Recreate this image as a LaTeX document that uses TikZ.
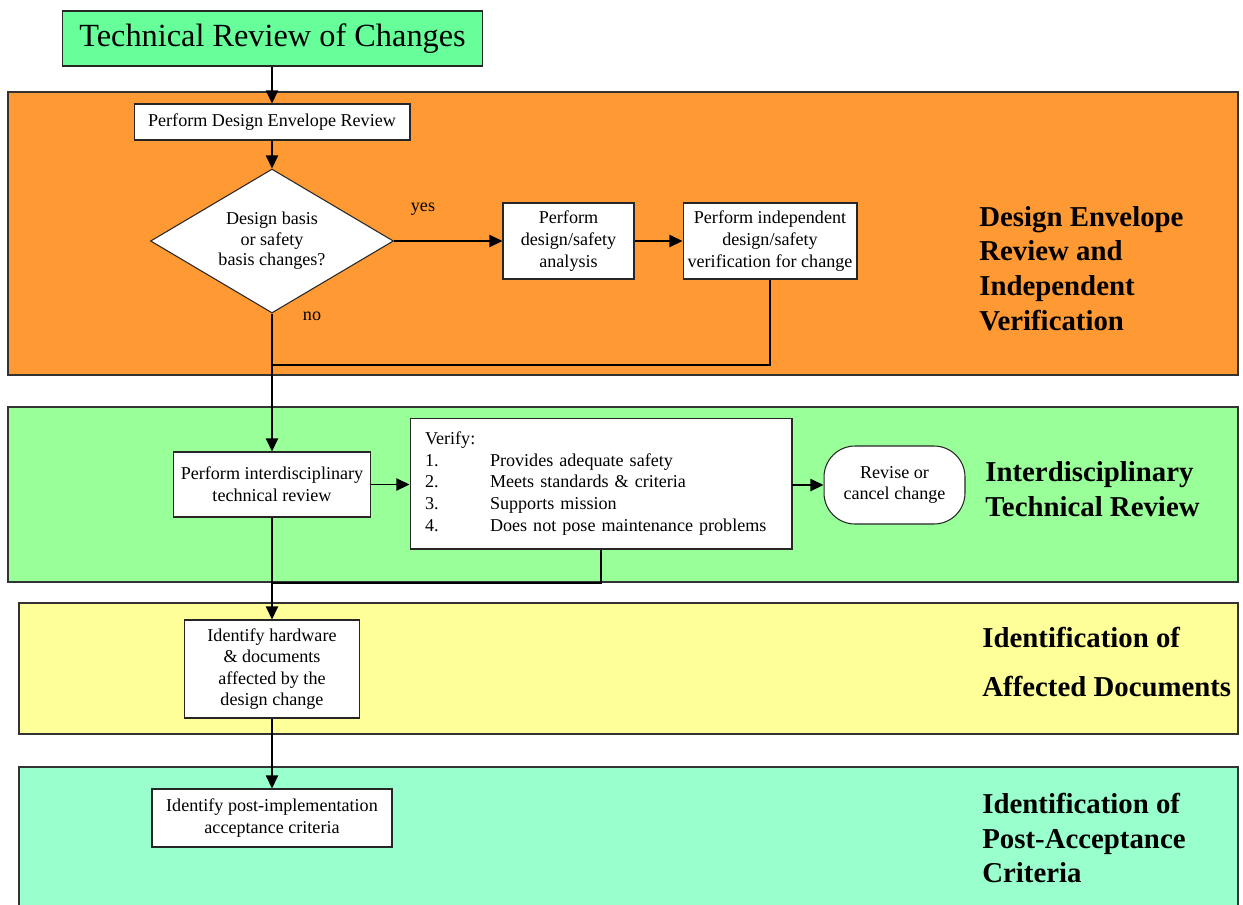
\documentclass[tikz,border=0pt]{standalone}
\usepackage{fontspec}
\setmainfont{Liberation Serif}
\usetikzlibrary{arrows.meta,shapes.geometric}
\definecolor{titlegreen}{HTML}{66FF99}
\definecolor{bandorange}{HTML}{FF9933}
\definecolor{bandgreen}{HTML}{99FF99}
\definecolor{bandyellow}{HTML}{FFFF99}
\definecolor{bandcyan}{HTML}{99FFCC}
\newcommand{\bodyfont}{\fontsize{10.3pt}{12.3pt}\selectfont}
\newcommand{\headfont}{\fontsize{16.4pt}{19.8pt}\selectfont\bfseries}
\begin{document}
\begin{tikzpicture}[x=0.02cm,y=-0.02cm,
  band/.style={draw=black!80,line width=0.6pt},
  box/.style={draw=black!85,fill=white,line width=0.6pt,font=\bodyfont,align=center,inner sep=0pt},
  arr/.style={-{Triangle[length=7.5pt,width=7pt]},line width=0.8pt},
  conn/.style={line width=0.8pt},
  heading/.style={font=\headfont,align=left,anchor=west,inner sep=0pt},
  lbl/.style={font=\bodyfont,inner sep=0pt}]
\useasboundingbox (0,0) rectangle (1243,904);
% bands
\path[band,fill=bandorange] (8,92) rectangle (1238,375);
\path[band,fill=bandgreen] (8,407) rectangle (1238,582);
\path[band,fill=bandyellow] (19,603) rectangle (1238,734);
\path[band,fill=bandcyan] (19,767) rectangle (1238,910);
% title
\node[box,fill=titlegreen,minimum width=8.42cm,minimum height=1.1cm,font=\fontsize{18.4pt}{22pt}\selectfont] (title) at (272.5,38.5) {Technical Review of Changes};
% orange band
\node[box,minimum width=5.52cm,minimum height=0.72cm] (der) at (272,122) {Perform Design Envelope Review};
\node[box,shape=diamond,minimum width=4.86cm,minimum height=2.88cm,shape aspect=1.69,font={\fontsize{10.3pt}{11.6pt}\selectfont}] (dia) at (272,241) {Design basis\\or safety\\basis changes?};
\node[box,minimum width=2.62cm,minimum height=1.52cm] (ana) at (568.5,241) {Perform\\design/safety\\analysis};
\node[box,minimum width=3.48cm,minimum height=1.52cm] (ver) at (770,241) {Perform independent\\design/safety\\verification for change};
\node[lbl] (yes) at (423,209) {yes};
\node[lbl] (no) at (312,316) {no};
\node[heading] (h1) at (979,268.5) {Design Envelope\\Review and\\Independent\\Verification};
% green band
\node[box,minimum width=3.94cm,minimum height=1.3cm] (idr) at (272,484.5) {Perform interdisciplinary\\technical review};
\node[box,minimum width=7.64cm,minimum height=2.62cm,align=left,text width=7.04cm,inner xsep=0.3cm] (vfy) at (601,483.5) {\begin{tabular}{@{}p{1.3cm}@{}l@{}}\multicolumn{2}{@{}l}{Verify:}\\1. & Provides adequate safety\\2. & Meets standards \& criteria\\3. & Supports mission\\4. & Does not pose maintenance problems\end{tabular}};
\node[box,minimum width=2.82cm,minimum height=1.56cm,rounded corners=0.62cm] (rev) at (894.5,485) {Revise or\\cancel change};
\node[heading] (h2) at (985,489) {Interdisciplinary\\Technical Review};
% yellow band
\node[box,minimum width=3.5cm,minimum height=1.96cm] (ihw) at (272,669) {Identify hardware\\\& documents\\affected by the\\design change};
\node[heading,font={\fontsize{16.4pt}{28.3pt}\selectfont\bfseries}] (h3) at (982,662) {Identification of\\Affected Documents};
% cyan band
\node[box,minimum width=4.8cm,minimum height=1.16cm] (post) at (272,818) {Identify post-implementation\\acceptance criteria};
\node[heading] (h4) at (982,838) {Identification of\\Post-Acceptance\\Criteria};
% junctions
\coordinate (j1) at (272,365);
\coordinate (j2) at (272,583);
% connectors
\draw[arr] (title.south -| der.north) -- (der.north);
\draw[arr] (der.south) -- (dia.north);
\draw[arr] (dia.east) -- (ana.west);
\draw[arr] (ana.east) -- (ver.west);
\draw[arr] (dia.south) -- (dia.south |- idr.north);
\draw[conn] (ver.south) |- (j1);
\draw[arr] (idr.east) -- (idr.east -| vfy.west);
\draw[arr] (vfy.east) -- (vfy.east |- rev.west) -- (rev.west);
\draw[arr] (idr.south -| ihw.north) -- (ihw.north);
\draw[conn] (vfy.south) |- (j2);
\draw[arr] (ihw.south -| post.north) -- (post.north);
\end{tikzpicture}
\end{document}
